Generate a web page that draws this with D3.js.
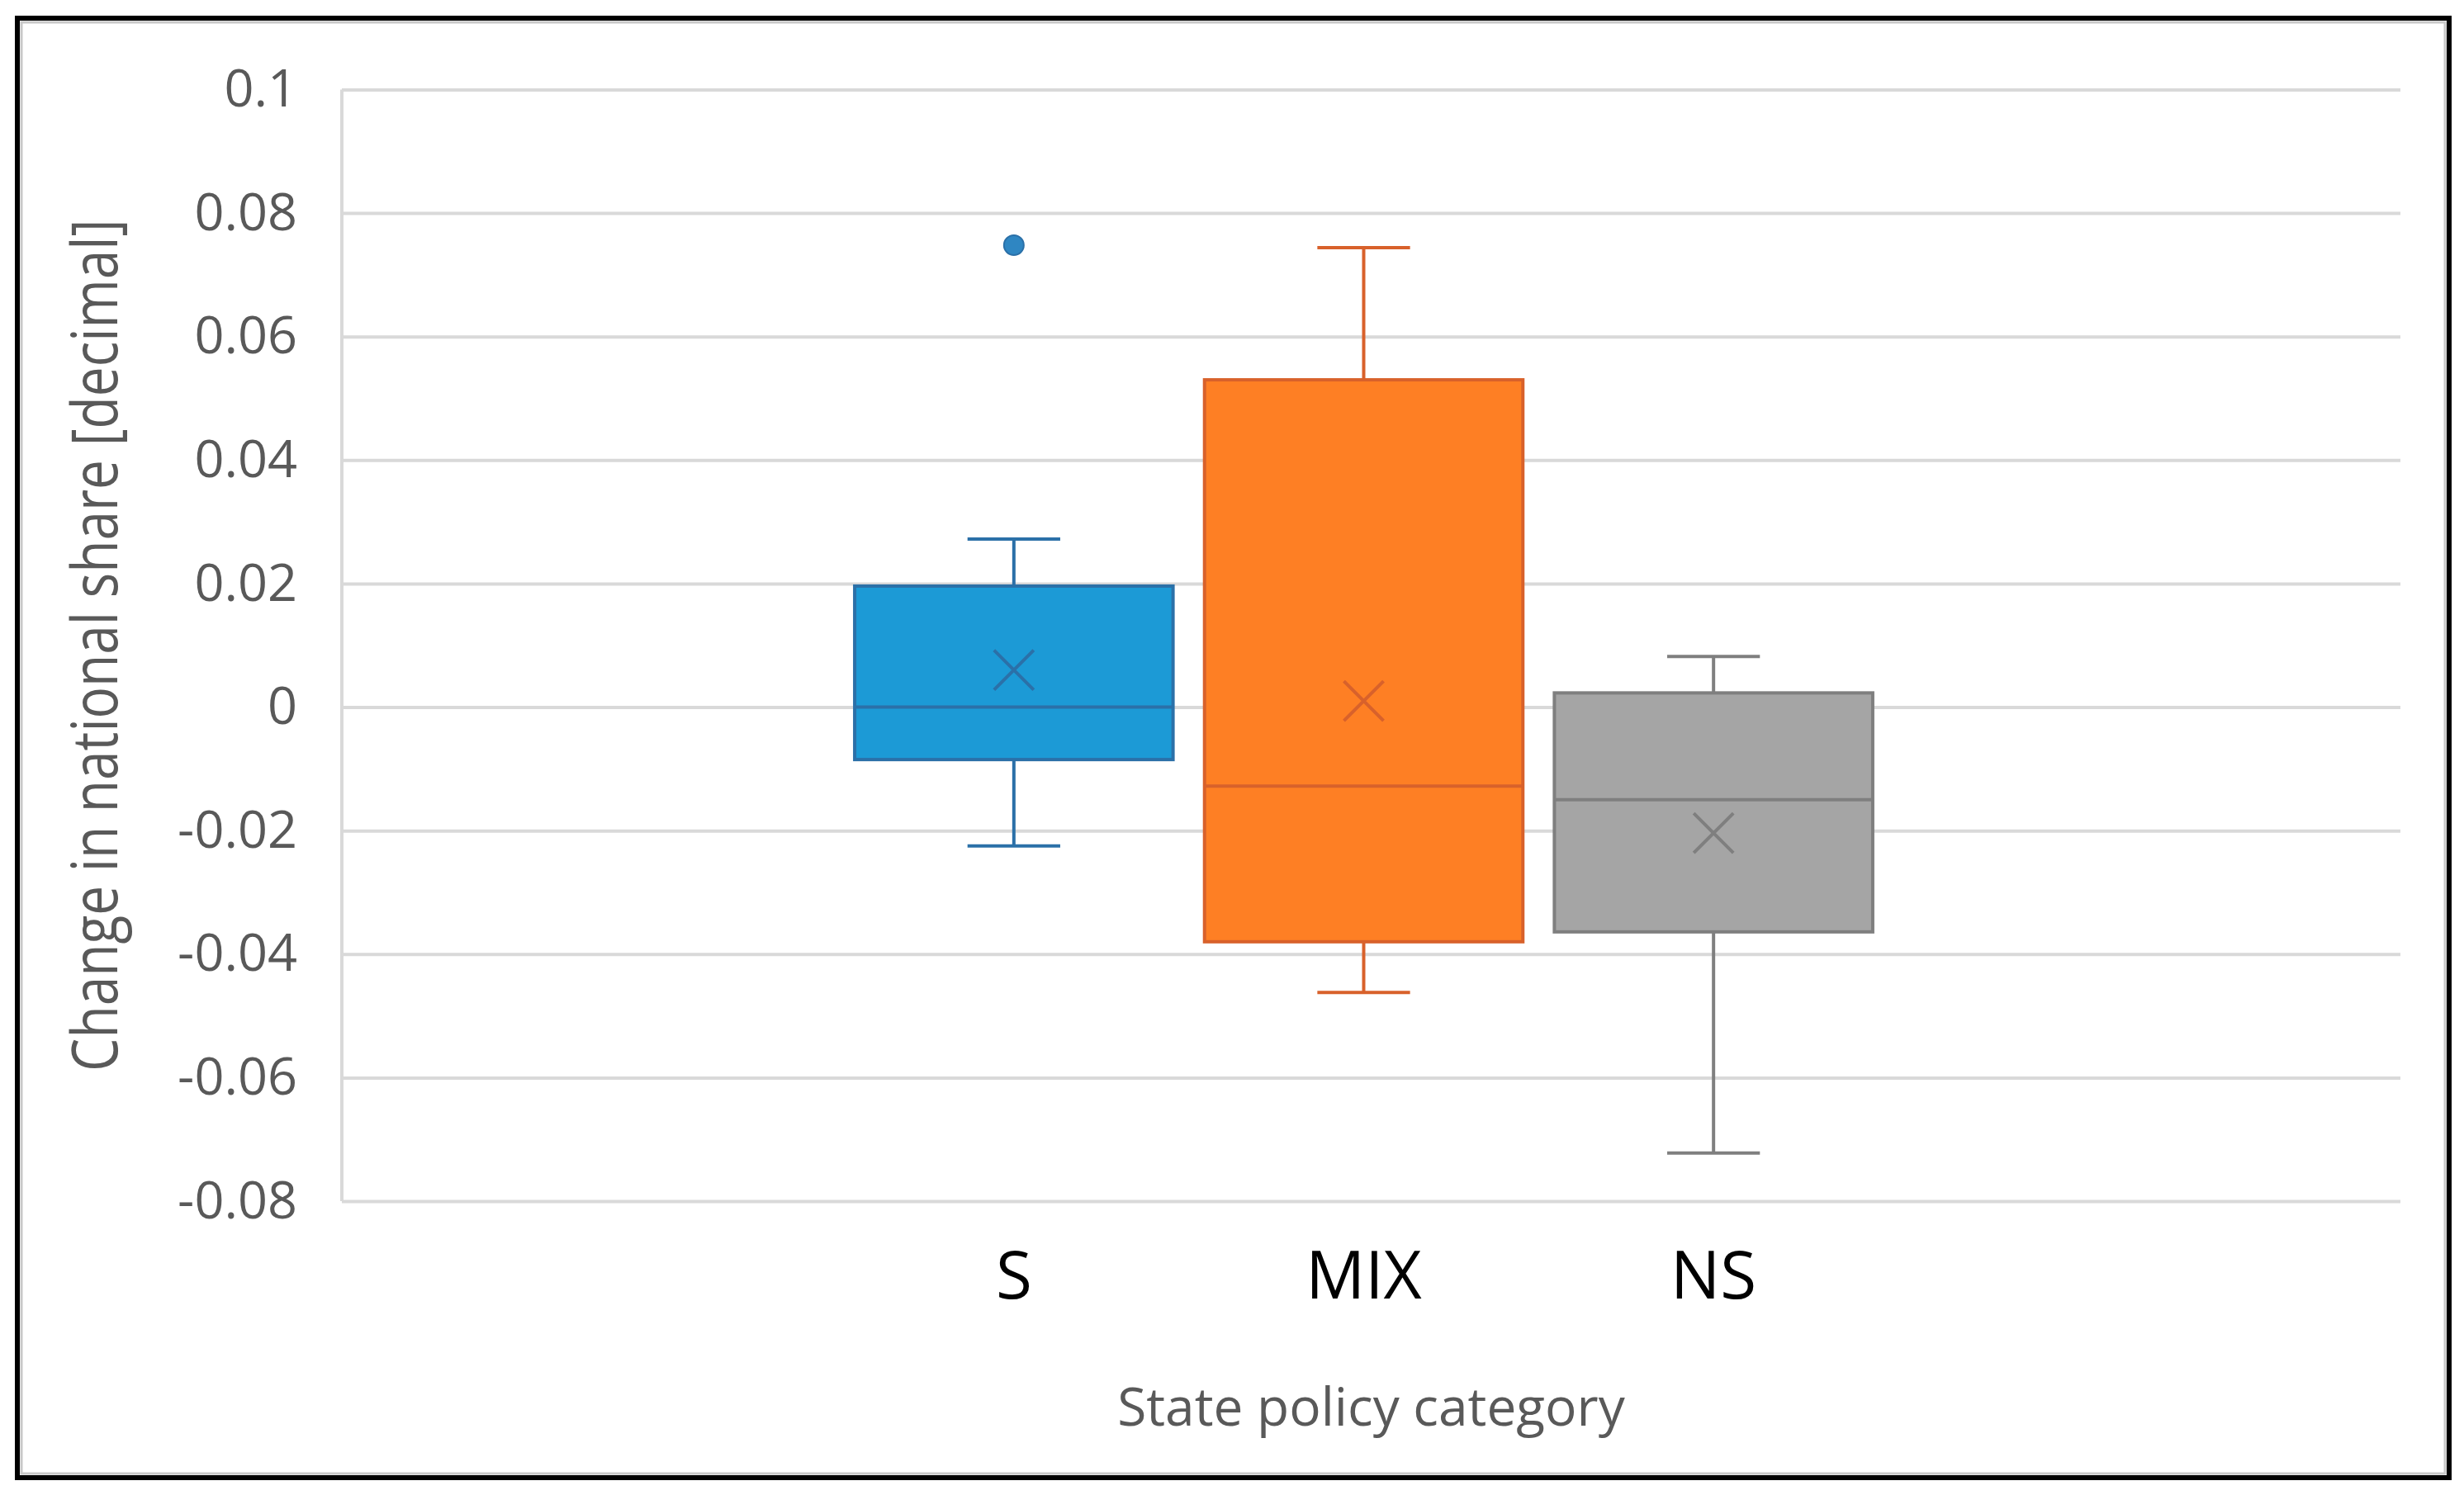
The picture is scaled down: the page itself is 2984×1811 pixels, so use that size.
<!DOCTYPE html>
<html>
<head>
<meta charset="utf-8">
<script src="https://cdn.jsdelivr.net/npm/d3@7"></script>
<style>
  body { margin: 0; background: #fff; }
  svg { display: block; }
</style>
</head>
<body>
<svg id="chart"></svg>
<script>
// values
const categories = ["S", "MIX", "NS"];
const whiskerLow = [-0.0225, -0.0462, -0.0722];
const q1 = [-0.0085, -0.038, -0.0364];
const median = [0, -0.0128, -0.015];
const q3 = [0.0196, 0.053, 0.0023];
const whiskerHigh = [0.0272, 0.0744, 0.0082];
const means = [0.006, 0.001, -0.0204];
const outliers = [[0.0748], [], []];

const yTicks = [0.1, 0.08, 0.06, 0.04, 0.02, 0, -0.02, -0.04, -0.06, -0.08];
const yTickLabels = ["0.1", "0.08", "0.06", "0.04", "0.02", "0", "-0.02", "-0.04", "-0.06", "-0.08"];

const fills = ["#1c9ad6", "#fe7f24", "#a5a5a5"];
const strokes = ["#2b70a8", "#d8612b", "#7f7f7f"];

function init() {
    let width = 2984,
        height = 1811,
        margin = {left: 414, top: 108.5, right: 77, bottom: 356},
        plotW = width - margin.left - margin.right,
        plotH = height - margin.top - margin.bottom,
        svg = d3.select('#chart').attr('width', width).attr('height', height);

    svg.append('rect').attr('width', width).attr('height', height).attr('fill', '#fff');

    // outer frame
    svg.append('rect')
        .attr('x', 21).attr('y', 22)
        .attr('width', 2945).attr('height', 1768)
        .attr('fill', 'none').attr('stroke', '#000').attr('stroke-width', 6);
    svg.append('rect')
        .attr('x', 26).attr('y', 27)
        .attr('width', 2935).attr('height', 1758)
        .attr('fill', 'none').attr('stroke', '#c8c8c8').attr('stroke-width', 3);

    let g = svg.append('g').attr('transform', `translate(${margin.left},${margin.top})`);

    let yScale = d3.scaleLinear().domain([-0.08, 0.1]).range([plotH, 0]);
    let xScale = d3.scaleBand().domain(categories).range([602, 1873]).padding(0);
    let boxW = xScale.bandwidth() * 0.91,
        capW = xScale.bandwidth() * 0.265,
        cx = d => xScale(d.cat) + xScale.bandwidth() / 2;

    // gridlines + tick labels
    let yAxis = g.append('g')
        .call(d3.axisLeft(yScale)
            .tickValues(yTicks)
            .tickFormat((d, i) => yTickLabels[i])
            .tickSize(-plotW)
            .tickPadding(54));
    yAxis.select('.domain').remove();
    yAxis.selectAll('line').attr('stroke', '#d9d9d9').attr('stroke-width', 4);
    yAxis.selectAll('text')
        .attr('fill', '#595959')
        .attr('font-family', "'Open Sans', sans-serif")
        .attr('font-size', 63);

    g.append('line')
        .attr('x1', 0).attr('x2', 0)
        .attr('y1', yScale(0.1)).attr('y2', yScale(-0.08))
        .attr('stroke', '#d9d9d9').attr('stroke-width', 4);

    let rows = categories.map((c, i) => ({
        cat: c, lo: whiskerLow[i], q1: q1[i], med: median[i], q3: q3[i],
        hi: whiskerHigh[i], mean: means[i], out: outliers[i],
        fill: fills[i], stroke: strokes[i]
    }));

    let box = g.selectAll('g.box')
        .data(rows)
        .enter()
        .append('g')
        .attr('class', 'box');

    // whiskers
    box.append('line')
        .attr('x1', cx).attr('x2', cx)
        .attr('y1', d => yScale(d.q3)).attr('y2', d => yScale(d.hi))
        .attr('stroke', d => d.stroke).attr('stroke-width', 4);
    box.append('line')
        .attr('x1', cx).attr('x2', cx)
        .attr('y1', d => yScale(d.q1)).attr('y2', d => yScale(d.lo))
        .attr('stroke', d => d.stroke).attr('stroke-width', 4);
    box.append('line')
        .attr('x1', d => cx(d) - capW / 2).attr('x2', d => cx(d) + capW / 2)
        .attr('y1', d => yScale(d.hi)).attr('y2', d => yScale(d.hi))
        .attr('stroke', d => d.stroke).attr('stroke-width', 4);
    box.append('line')
        .attr('x1', d => cx(d) - capW / 2).attr('x2', d => cx(d) + capW / 2)
        .attr('y1', d => yScale(d.lo)).attr('y2', d => yScale(d.lo))
        .attr('stroke', d => d.stroke).attr('stroke-width', 4);

    // box
    box.append('rect')
        .attr('x', d => cx(d) - boxW / 2)
        .attr('y', d => yScale(d.q3))
        .attr('width', boxW)
        .attr('height', d => yScale(d.q1) - yScale(d.q3))
        .attr('fill', d => d.fill)
        .attr('stroke', d => d.stroke).attr('stroke-width', 4);

    // median
    box.append('line')
        .attr('x1', d => cx(d) - boxW / 2).attr('x2', d => cx(d) + boxW / 2)
        .attr('y1', d => yScale(d.med)).attr('y2', d => yScale(d.med))
        .attr('stroke', d => d.stroke).attr('stroke-width', 4);

    // mean marker (x)
    let s = 24;
    box.append('path')
        .attr('d', d => {
            let x = cx(d), y = yScale(d.mean);
            return `M${x - s},${y - s}L${x + s},${y + s}M${x - s},${y + s}L${x + s},${y - s}`;
        })
        .attr('stroke', d => d.stroke).attr('stroke-width', 4).attr('fill', 'none');

    // outliers
    box.selectAll('circle')
        .data(d => d.out.map(v => ({v: v, d: d})))
        .enter()
        .append('circle')
        .attr('cx', o => cx(o.d))
        .attr('cy', o => yScale(o.v))
        .attr('r', 12)
        .attr('fill', o => o.d.fill === fills[0] ? '#2f86c2' : o.d.fill)
        .attr('stroke', o => o.d.stroke).attr('stroke-width', 2);

    // category labels
    let xAxis = g.append('g')
        .attr('transform', `translate(0,${plotH})`)
        .call(d3.axisBottom(xScale).tickSize(0));
    xAxis.select('.domain').remove();
    xAxis.selectAll('text')
        .attr('y', 118).attr('dy', 0)
        .attr('fill', '#000')
        .attr('font-family', "'Open Sans', sans-serif")
        .attr('font-size', 80);

    // axis titles
    svg.append('text')
        .text('State policy category')
        .attr('x', margin.left + plotW / 2)
        .attr('y', 1727)
        .attr('text-anchor', 'middle')
        .attr('fill', '#595959')
        .attr('font-family', "'Open Sans', sans-serif")
        .attr('font-size', 64);

    svg.append('text')
        .text('Change in national share [decimal]')
        .attr('transform', `translate(142,${margin.top + plotH / 2}) scale(1.2,1) rotate(-90)`)
        .attr('text-anchor', 'middle')
        .attr('fill', '#595959')
        .attr('font-family', "'Open Sans', sans-serif")
        .attr('font-size', 64);
}

onload = function () {
    init();
}
</script>
</body>
</html>
